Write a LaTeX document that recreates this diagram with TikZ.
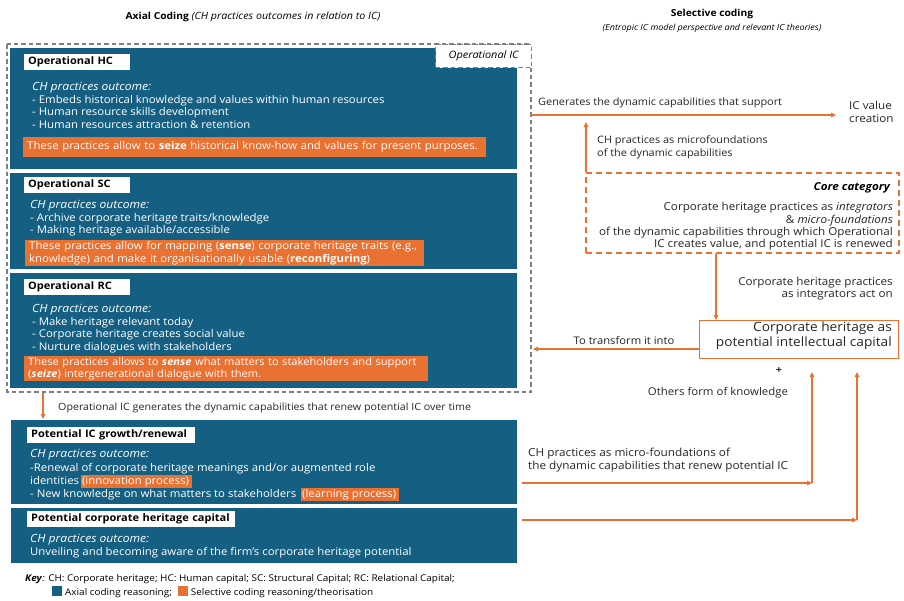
\documentclass[tikz,border=0pt]{standalone}
\usepackage{fontspec}
\setmainfont{Open Sans}[FakeStretch=1.07]
\usetikzlibrary{arrows.meta}
\definecolor{icblue}{HTML}{156082}
\definecolor{icorange}{HTML}{E97132}
\definecolor{dashgray}{HTML}{808080}
\definecolor{lbltext}{HTML}{262626}
\newcommand{\fsz}[2]{\fontsize{#1}{#2}\selectfont}
\newcommand{\hlt}[1]{{\setlength{\fboxsep}{1.2pt}\colorbox{icorange}{\textcolor{white}{#1\hspace{2pt}}}}}
\newcommand{\outc}{{\fontsize{11.3}{12.5}\selectfont\itshape CH practices outcome:}}
\tikzset{
  bluebox/.style={draw=white, line width=1pt, fill=icblue, anchor=north west, inner sep=0pt},
  titlebox/.style={fill=white, anchor=north west, inner xsep=4pt, inner ysep=0pt,
    minimum height=16pt, text width=#1, align=left, font=\fsz{10.3}{12}\bfseries, text=black},
  bodytext/.style={anchor=north west, inner sep=0pt, align=left, text=white, font=\fsz{10.65}{12.5}},
  hilite/.style={fill=icorange, text=white, anchor=north west, inner xsep=4pt, inner ysep=1pt,
    text width=#1, align=left, font=\fsz{10.65}{12.2}},
  lbl/.style={inner sep=0pt, font=\fsz{10.2}{12.6}, text=lbltext},
  arr/.style={draw=icorange, line width=1.1pt, -{Triangle[length=5pt,width=4.5pt]}},
}
\begin{document}
\begin{tikzpicture}[x=1pt, y=-1pt]
\useasboundingbox[fill=white] (0,0) rectangle (904,600);

% ---- column headings
\node[inner sep=0pt, anchor=base, text=black] (axhead) at (253,19)
  {\fsz{9.6}{11}\textbf{Axial Coding} \fsz{10}{11}\textit{(CH practices outcomes in relation to IC)}};
\node[inner sep=0pt, font=\fsz{9.6}{11}\bfseries, anchor=base, text=black] (selhead) at (712,16) {Selective coding};
\node[inner sep=0pt, font=\fsz{8.4}{9}\itshape, anchor=base, text=black] (selsub) at (712,30)
  {(Entropic IC model perspective and relevant IC theories)};

% ---- operational IC blocks
\node[bluebox, minimum width=508pt, minimum height=122pt] (hc) at (9,47) {};
\node[bluebox, minimum width=508pt, minimum height=97pt] (sc) at (9,172) {};
\node[bluebox, minimum width=508pt, minimum height=116pt] (rc) at (9,272) {};

% dashed frame grouping the operational blocks
\draw[dashgray, line width=1.3pt, dash pattern=on 4.5pt off 3pt] (7,44) rectangle (531,392);
\node[fill=white, draw=dashgray, line width=1.3pt, dash pattern=on 4.5pt off 3pt,
  anchor=north west, minimum width=96pt, minimum height=23pt, inner sep=0pt,
  font=\fsz{10.2}{11}\itshape, text=black] (opic) at (435,44) {Operational IC};

% Operational HC
\node[titlebox=98pt] (hct) at (24,54) {Operational HC};
\node[bodytext] (hcb) at (32,82) {\outc\\
  - Embeds historical knowledge and values within human resources\\
  - Human resource skills development\\
  - Human resources attraction \& retention};
\node[hilite=455pt, minimum height=20pt] (hch) at (23,137)
  {These practices allow to \textbf{seize} historical know-how and values for present purposes.};

% Operational SC
\node[titlebox=98pt] (sct) at (24,177) {Operational SC};
\node[bodytext] (scb) at (30,200) {\outc\\
  - Archive corporate heritage traits/knowledge\\
  - Making heritage available/accessible};
\node[hilite=391pt, minimum height=26pt] (sch) at (25,240)
  {These practices allow for mapping (\textbf{sense}) corporate heritage traits (e.g.,\\
   knowledge) and make it organisationally usable (\textbf{reconfiguring})};

% Operational RC
\node[titlebox=98pt] (rct) at (24,279) {Operational RC};
\node[bodytext] (rcb) at (32,304) {\outc\\
  - Make heritage relevant today\\
  - Corporate heritage creates social value\\
  - Nurture dialogues with stakeholders};
\node[hilite=396pt, minimum height=25pt, font=\fsz{10.4}{12.2}] (rch) at (24,356)
  {These practices allows to \textbf{\textit{sense}} what matters to stakeholders and support\\
   (\textbf{\textit{seize}}) intergenerational dialogue with them.};

% ---- potential IC blocks
\node[bluebox, minimum width=507pt, minimum height=85pt] (pic) at (10,419) {};
\node[bluebox, minimum width=507pt, minimum height=56pt] (pch) at (10,507) {};

\coordinate (opdown) at (43,393);
\draw[arr] (opdown) -- (opdown |- pic.north);
\node[lbl, anchor=base west, font=\fsz{10}{12}] (opgen) at (58,410)
  {Operational IC generates the dynamic capabilities that renew potential IC over time};

\node[titlebox=160pt] (pict) at (27,427) {Potential IC growth/renewal};
\node[bodytext] (picb) at (30,449) {\outc};
\node[bodytext] (picc) at (30,463.5) {-Renewal of corporate heritage meanings and/or augmented role\\
  identities\,\hlt{(innovation process)}\\[-1pt]
  - New knowledge on what matters to stakeholders \,\hlt{(learning process)}};

\node[titlebox=200pt] (pcht) at (27,511) {Potential corporate heritage capital};
\node[bodytext] (pchb) at (30,534) {\outc\\
  Unveiling and becoming aware of the firm’s corporate heritage potential};

% ---- key
\node[lbl, anchor=north west, align=left, font=\fsz{9.3}{14}, text=black] (key) at (25,574)
  {\textbf{\textit{Key}}\textit{:} CH: Corporate heritage; HC: Human capital; SC: Structural Capital; RC: Relational Capital;\\
   \hspace{27pt}\textcolor{icblue}{\rule[-1pt]{10pt}{10pt}}\hspace{3pt}Axial coding reasoning;\hspace{6pt}%
   \textcolor{icorange}{\rule[-1pt]{10pt}{10pt}}\hspace{3pt}Selective coding reasoning/theorisation};

% ---- selective coding side
\node[lbl, anchor=north west, align=left, font=\fsz{10.9}{12.8}] (icv) at (849,101) {IC value\\creation};
\coordinate (genstart) at (531,115);
\coordinate (genend) at (836,115);
\draw[arr] (genstart) -- (genend);
\node[lbl, anchor=base west] (genlbl) at (538,105) {Generates the dynamic capabilities that support};

\node[draw=icorange, line width=1.5pt, dash pattern=on 6pt off 4pt, anchor=north west,
  minimum width=313pt, minimum height=80pt, inner sep=0pt] (core) at (585,172) {};
\node[inner sep=0pt, anchor=base east, font=\fsz{10.9}{12}\bfseries\itshape, text=black] (corelbl) at (890,190) {Core category};
\node[lbl, anchor=north east, align=right, font=\fsz{10.9}{12.2}] (coretxt) at (893,202.5)
  {Corporate heritage practices as \textit{integrators}\\
   \& \textit{micro-foundations}\\
   of the dynamic capabilities through which Operational\\
   IC creates value, and potential IC is renewed};

\coordinate (mfbase) at (586,172);
\coordinate (mftop) at (586,122);
\draw[arr] (mfbase) -- (mftop);
\node[lbl, anchor=north west, align=left] (mflbl) at (597,135.5)
  {CH practices as microfoundations\\of the dynamic capabilities};

\node[draw=icorange, line width=1.1pt, anchor=north west, minimum width=199pt,
  minimum height=38pt, inner sep=0pt] (chpic) at (699,320) {};
\node[inner sep=0pt, anchor=north east, align=right, font=\fsz{12.8}{15}, text=lbltext] (chpictxt) at (892,322)
  {Corporate heritage as\\potential intellectual capital};

\coordinate (actx) at (716,0);
\draw[arr] (core.south -| actx) -- (chpic.north -| actx);
\node[lbl, anchor=north east, align=right, font=\fsz{10.9}{12.4}] (actlbl) at (893,277)
  {Corporate heritage practices\\as integrators act on};

\coordinate (trto) at (533,349);
\draw[arr] (chpic.west |- trto) -- (trto);
\node[lbl, anchor=base, font=\fsz{10.5}{12}] (trlbl) at (624,344) {To transform it into};

\node[lbl, anchor=center, font=\fsz{10}{12}\bfseries] (plus) at (779,371) {+};
\node[lbl, anchor=base, font=\fsz{10.7}{12}] (other) at (718,395) {Others form of knowledge};

% renewal connectors from the potential IC blocks
\coordinate (renA) at (812,483);
\coordinate (renAtop) at (812,372);
\coordinate (renAstart) at (522,483);
\coordinate (renB) at (857,520);
\coordinate (renBtop) at (857,372);
\coordinate (renBstart) at (522,520);
\draw[arr] (renAstart) -- (renA);
\draw[arr] (renA) -- (renAtop);
\draw[arr] (renBstart) -- (renB);
\draw[arr] (renB) -- (renBtop);
\node[lbl, anchor=north west, align=left, font=\fsz{11}{12.8}] (renlbl) at (528,448)
  {CH practices as micro-foundations of\\the dynamic capabilities that renew potential IC};
\end{tikzpicture}
\end{document}
